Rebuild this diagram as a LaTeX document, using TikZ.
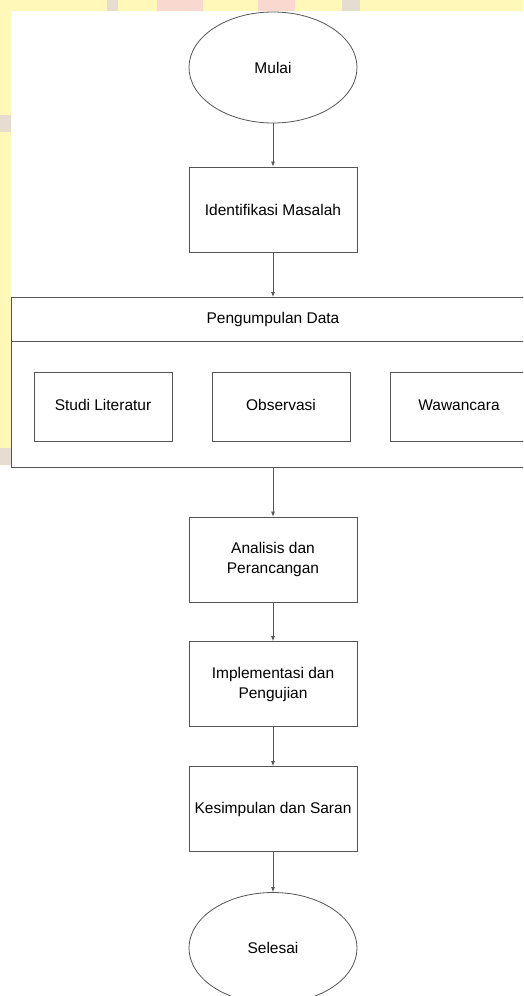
\documentclass[tikz,border=0pt]{standalone}
\usepackage{fontspec}
\setmainfont{Liberation Sans}
\usetikzlibrary{shapes.geometric,arrows.meta}
\definecolor{wmyellow}{HTML}{FFF8B8}
\definecolor{wmpink}{HTML}{F8D8CF}
\definecolor{wmgray}{HTML}{E6DCCF}
\definecolor{linegray}{HTML}{555555}
\tikzset{
  every node/.style={font=\fontsize{15.5}{20}\selectfont, text=black},
  procbox/.style={draw=linegray, line width=0.8pt, rectangle, minimum width=168pt, minimum height=85pt, align=center, inner sep=0pt},
  subbox/.style={draw=linegray, line width=0.8pt, rectangle, minimum width=138pt, minimum height=69pt, inner sep=0pt, text height=11pt, text depth=3.5pt},
  term/.style={draw=linegray, line width=0.8pt, ellipse, minimum width=168pt, minimum height=111pt, inner sep=0pt},
  flow/.style={draw=linegray, line width=0.8pt, -{Latex[length=5pt,width=4pt]}},
}
\begin{document}
\begin{tikzpicture}[x=1pt,y=-1pt]
\useasboundingbox (0,0) rectangle (523,996);
\begin{scope}
\clip (0,0) rectangle (523,996);
% background with watermark strip
\fill[white] (0,0) rectangle (523,996);
\fill[wmyellow] (0,0) -- (523,0) -- (523,11) -- (11,11) -- (11,465) -- (0,465) -- cycle;
\fill[wmpink] (157,0) rectangle (203,11);
\fill[wmpink] (258,0) rectangle (295,11);
\fill[wmgray] (107,0) rectangle (118,11);
\fill[wmgray] (342,0) rectangle (360,11);
\fill[wmgray] (0,115) rectangle (11,132);
\fill[wmgray] (0,448) rectangle (11,465);

% nodes
\node[term] (mulai) at (273,67.5) {Mulai};
\node[procbox] (ident) at (273,209.5) {Identifikasi Masalah};

% container
\node[draw=linegray, line width=0.8pt, rectangle, minimum width=524pt, minimum height=170pt, inner sep=0pt, anchor=north west] (pd) at (11,297) {};
\node (pdtitle) at (273,319) {Pengumpulan Data};
\coordinate (divL) at (11,341);
\coordinate (divR) at (535,341);
\draw[linegray, line width=0.8pt] (divL) -- (divR);

\node[subbox] (studi) at (103,406.5) {Studi Literatur};
\node[subbox] (obs) at (281,406.5) {Observasi};
\node[subbox] (waw) at (459,406.5) {Wawancara};

\node[procbox] (anal) at (273,559.5) {Analisis dan\\Perancangan};
\node[procbox] (impl) at (273,684) {Implementasi dan\\Pengujian};
\node[procbox] (kes) at (273,809) {Kesimpulan dan Saran};
\node[term] (sel) at (273,948) {Selesai};

% connectors
\draw[flow] (mulai) -- (ident);
\draw[flow] (ident.south) -- (pd.north -| ident.south);
\draw[flow] (pd.south -| anal.north) -- (anal.north);
\draw[flow] (anal) -- (impl);
\draw[flow] (impl) -- (kes);
\draw[flow] (kes) -- (sel);
\end{scope}
\end{tikzpicture}
\end{document}
